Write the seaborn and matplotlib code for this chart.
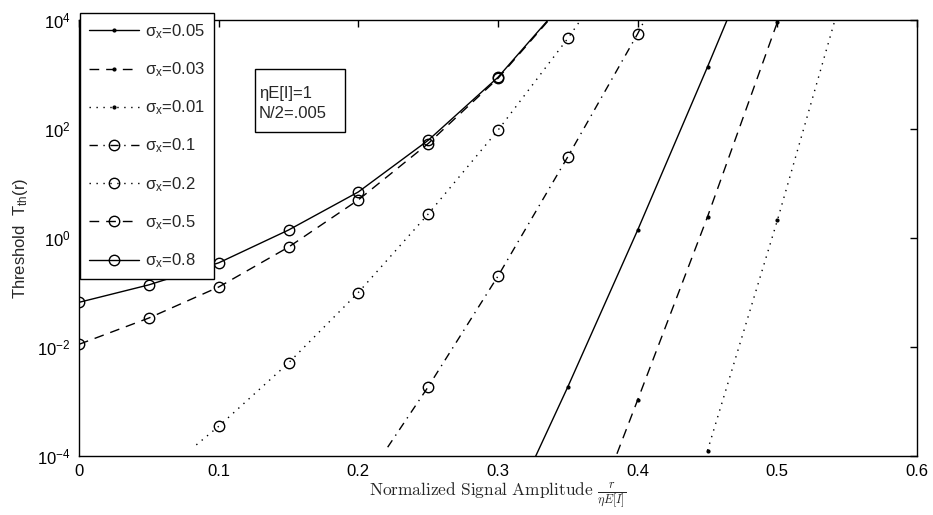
import numpy as np
import pandas as pd
import matplotlib
matplotlib.use("Agg")
import matplotlib.pyplot as plt
from matplotlib.patches import Rectangle
from matplotlib.ticker import FixedLocator, FixedFormatter, NullLocator
import seaborn as sns

# ---------------- data ----------------
labels = [r"σ$_\mathrm{x}$=0.05", r"σ$_\mathrm{x}$=0.03", r"σ$_\mathrm{x}$=0.01",
          r"σ$_\mathrm{x}$=0.1", r"σ$_\mathrm{x}$=0.2", r"σ$_\mathrm{x}$=0.5",
          r"σ$_\mathrm{x}$=0.8"]

x_s005 = [0.30, 0.35, 0.40, 0.45, 0.50]
y_s005 = [3.2e-6, 1.86e-3, 1.4, 1380, 1.6e6]

x_s003 = [0.35, 0.40, 0.45, 0.50, 0.55]
y_s003 = [5e-7, 1.07e-3, 2.45, 9100, 3.2e7]

x_s001 = [0.45, 0.50, 0.55]
y_s001 = [1.26e-4, 2.1, 6e4]

x_s01 = [0.221, 0.25, 0.30, 0.35, 0.40, 0.45]
y_s01 = [1.45e-4, 1.86e-3, 0.2, 31, 5600, 1.8e6]

x_s02 = [0.084, 0.10, 0.15, 0.20, 0.25, 0.30, 0.35, 0.40]
y_s02 = [1.6e-4, 3.5e-4, 5.1e-3, 0.10, 2.75, 95, 4600, 3.2e5]

x_s05 = [0.0, 0.05, 0.10, 0.15, 0.20, 0.25, 0.30, 0.35]
y_s05 = [0.0112, 0.034, 0.126, 0.68, 5.0, 54, 850, 2.5e4]

x_s08 = [0.0, 0.05, 0.10, 0.15, 0.20, 0.25, 0.30, 0.35]
y_s08 = [0.066, 0.138, 0.35, 1.4, 7.0, 62, 890, 2.6e4]

xticks = [0, 0.1, 0.2, 0.3, 0.4, 0.5, 0.6]
xtick_labels = ["0", "0.1", "0.2", "0.3", "0.4", "0.5", "0.6"]
yticks = [1e-4, 1e-2, 1e0, 1e2, 1e4]
ytick_labels = [r"10$^{-4}$", r"10$^{-2}$", r"10$^{0}$", r"10$^{2}$", r"10$^{4}$"]

note_text = "ηE[I]=1\nN/2=.005"

# ---------------- style ----------------
sns.set_style("white")
plt.rcParams.update({
    "font.family": ["Liberation Sans", "DejaVu Sans"],
    "mathtext.fontset": "custom",
    "mathtext.rm": "Liberation Sans",
    "mathtext.it": "Liberation Sans",
    "mathtext.bf": "Liberation Sans:bold",
    "axes.edgecolor": "black",
    "axes.linewidth": 1.0,
})

fig = plt.figure(figsize=(9.33, 5.15), dpi=100)
ax = fig.add_axes([79 / 933, 1 - 456 / 515, (917 - 79) / 933, (456 - 20) / 515])
ax.set_yscale("log")

dash = (0, (7, 5))
dot = (0, (1, 4))
dashdot = (0, (6, 4, 1, 4))

series = [
    (x_s005, y_s005, "-", ".", 4),
    (x_s003, y_s003, dash, ".", 4),
    (x_s001, y_s001, dot, ".", 4),
    (x_s01, y_s01, dashdot, "o", 7.5),
    (x_s02, y_s02, dot, "o", 7.5),
    (x_s05, y_s05, dash, "o", 7.5),
    (x_s08, y_s08, "-", "o", 7.5),
]

for (xs, ys, ls, mk, ms), lab in zip(series, labels):
    df = pd.DataFrame({"x": xs, "T": ys})
    every = [i for i, v in enumerate(xs) if abs(v * 20 - round(v * 20)) < 1e-6]
    sns.lineplot(data=df, x="x", y="T", ax=ax, color="black", linewidth=1.0,
                 linestyle=ls, marker=mk, markersize=ms, mfc="none" if mk == "o" else "black",
                 mec="black", mew=1.0, markevery=every, label=lab,
                 estimator=None, sort=False, errorbar=None)

ax.set_xlim(0, 0.6)
ax.set_ylim(1e-4, 1e4)
ax.xaxis.set_major_locator(FixedLocator(xticks))
ax.xaxis.set_major_formatter(FixedFormatter(xtick_labels))
ax.yaxis.set_major_locator(FixedLocator(yticks))
ax.yaxis.set_major_formatter(FixedFormatter(ytick_labels))
ax.yaxis.set_minor_locator(NullLocator())
ax.xaxis.set_minor_locator(NullLocator())
ax.tick_params(which="major", direction="in", top=True, right=True,
               length=5, width=1, labelsize=12, colors="black", pad=6)
for sp in ax.spines.values():
    sp.set_visible(True)
    sp.set_color("black")

ax.set_ylabel(r"Threshold  T$_\mathrm{th}$(r)", fontsize=12, labelpad=5)
ax.set_xlabel(r"$\mathrm{Normalized\ Signal\ Amplitude}\ \frac{r}{\eta E[I]}$",
              fontsize=12.5, math_fontfamily="cm", labelpad=1)

# annotation box
x0, x1 = (255 - 79) / 838, (345 - 79) / 838
y0, y1 = 1 - (132 - 20) / 436, 1 - (69 - 20) / 436
ax.add_patch(Rectangle((x0, y0), x1 - x0, y1 - y0, transform=ax.transAxes,
                       fill=True, facecolor="white", edgecolor="black", lw=1.0, zorder=5))
ax.text((259 - 79) / 838, 1 - (103.3 - 20) / 436, note_text, transform=ax.transAxes,
        ha="left", va="center", fontsize=12, linespacing=1.45, zorder=6)

leg = ax.legend(loc="upper left", bbox_to_anchor=(80 / 933, 1 - 13 / 515),
                bbox_transform=fig.transFigure, borderaxespad=0, frameon=True,
                fancybox=False, edgecolor="black", framealpha=1, fontsize=12,
                handlelength=3.0, labelspacing=1.17, borderpad=0.55, handletextpad=0.35,
                numpoints=1)
leg.get_frame().set_linewidth(1.0)

fig.savefig("out.png", dpi=100)
